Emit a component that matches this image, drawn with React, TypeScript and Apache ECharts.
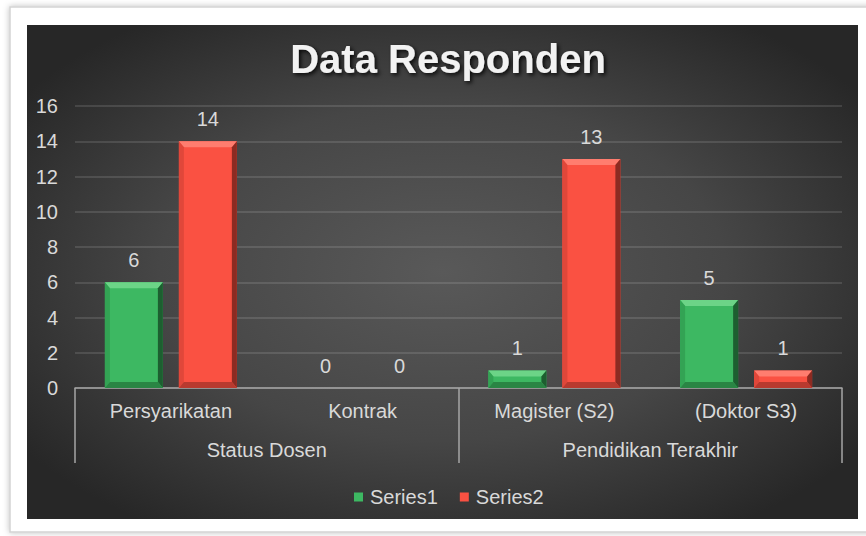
import React, { useEffect, useRef } from "react";
import * as echarts from "echarts";

const categories = ["Persyarikatan", "Kontrak", "Magister (S2)", "(Doktor S3)"];
const groups = ["Status Dosen", "Pendidikan Terakhir"];
const seriesNames = ["Series1", "Series2"];
const series1 = [6, 0, 1, 5];
const series2 = [14, 0, 13, 1];
const yMin = 0;
const yMax = 16;
const yStep = 2;
const titleText = "Data Responden";

const FONT = "'Liberation Sans', Arial, sans-serif";
const TXT = "#d9d9d9";
const BAR_W = 58;
const BAR_GAP_PX = 16;

const GREEN = { main: "#3db862", top: "#6cd487", left: "#33a354", right: "#1d5f30", bottom: "#2a8544" };
const RED = { main: "#fa5142", top: "#ff7d6f", left: "#e0473a", right: "#8c2b22", bottom: "#b83a2f" };

function bevelSeries(name: string, data: number[], sign: number, pal: typeof GREEN) {
  return {
    name,
    type: "custom",
    z: 5,
    silent: true,
    data: data.map((v, i) => [i, v]),
    encode: { x: 0, y: 1 },
    renderItem: (params: any, api: any) => {
      const v = api.value(1);
      if (!v) return null;
      const top = api.coord([api.value(0), v]);
      const base = api.coord([api.value(0), 0]);
      const cx = top[0] + sign * (BAR_W / 2 + BAR_GAP_PX / 2);
      const x0 = cx - BAR_W / 2;
      const x1 = cx + BAR_W / 2;
      const y0 = top[1];
      const y1 = base[1];
      const b = Math.min(6, (y1 - y0) / 2);
      const r = Math.min(5, BAR_W / 2);
      return {
        type: "group",
        children: [
          { type: "polygon", shape: { points: [[x0, y0], [x1, y0], [x1 - r, y0 + b], [x0 + r, y0 + b]] }, style: { fill: pal.top } },
          { type: "polygon", shape: { points: [[x1, y0], [x1, y1], [x1 - r, y1 - b], [x1 - r, y0 + b]] }, style: { fill: pal.right } },
          { type: "polygon", shape: { points: [[x0, y0], [x0 + r, y0 + b], [x0 + r, y1 - b], [x0, y1]] }, style: { fill: pal.left } },
          { type: "polygon", shape: { points: [[x0, y1], [x0 + r, y1 - b], [x1 - r, y1 - b], [x1, y1]] }, style: { fill: pal.bottom } },
        ],
      };
    },
  };
}

export default function App() {
  const ref = useRef<HTMLDivElement>(null);
  useEffect(() => {
    if (!ref.current) return;
    const chart = echarts.init(ref.current, undefined, { renderer: "svg" });
    const labelStyle = { show: true, position: "top", distance: 12, color: TXT, fontSize: 20, fontFamily: FONT };
    chart.setOption({
      animation: false,
      backgroundColor: "#ffffff",
      graphic: [
        {
          type: "rect",
          z: -10,
          shape: { x: 10, y: 7, width: 870, height: 525 },
          style: { fill: "#ffffff", stroke: "#d4d4d4", lineWidth: 1.5, shadowBlur: 6, shadowColor: "rgba(0,0,0,0.25)" },
        },
        {
          type: "rect",
          z: -9,
          shape: { x: 27, y: 25, width: 831, height: 494 },
          style: {
            fill: new echarts.graphic.RadialGradient(0.5, 0.5, 0.62, [
              { offset: 0, color: "#595959" },
              { offset: 0.55, color: "#464646" },
              { offset: 1, color: "#272727" },
            ]),
          },
        },
      ],
      title: {
        text: titleText,
        left: 443,
        textAlign: "center",
        top: 34,
        textStyle: {
          fontFamily: FONT,
          fontWeight: "bold",
          fontSize: 40,
          color: "#f2f2f2",
          textShadowColor: "rgba(0,0,0,0.85)",
          textShadowBlur: 4,
          textShadowOffsetX: 2,
          textShadowOffsetY: 2,
        },
      },
      legend: {
        data: seriesNames,
        left: 349,
        top: 482,
        itemWidth: 9,
        itemHeight: 9,
        itemGap: 22,
        icon: "rect",
        textStyle: { color: TXT, fontSize: 20, fontFamily: FONT, padding: [0, 0, 0, 2] },
      },
      grid: { left: 75, right: 24, top: 106, bottom: 148 },
      xAxis: [
        {
          type: "category",
          data: categories,
          axisLine: { show: true, lineStyle: { color: "#a6a6a6", width: 1.5 } },
          axisTick: { show: false },
          axisLabel: { color: TXT, fontSize: 20, fontFamily: FONT, margin: 13 },
        },
        {
          type: "category",
          data: groups,
          position: "bottom",
          axisLine: { show: false },
          axisTick: { show: true, length: 75, lineStyle: { color: "#a6a6a6", width: 1.5 } },
          axisLabel: { color: TXT, fontSize: 20, fontFamily: FONT, margin: 52 },
        },
      ],
      yAxis: {
        type: "value",
        min: yMin,
        max: yMax,
        interval: yStep,
        axisLine: { show: false },
        axisTick: { show: false },
        axisLabel: { color: TXT, fontSize: 20, fontFamily: FONT, margin: 17 },
        splitLine: { lineStyle: { color: "rgba(255,255,255,0.16)", width: 1.5 } },
      },
      series: [
        {
          name: seriesNames[0],
          type: "bar",
          data: series1,
          barWidth: BAR_W,
          barGap: (BAR_GAP_PX / BAR_W) * 100 + "%",
          itemStyle: { color: GREEN.main },
          label: labelStyle,
        },
        {
          name: seriesNames[1],
          type: "bar",
          data: series2,
          barWidth: BAR_W,
          barGap: (BAR_GAP_PX / BAR_W) * 100 + "%",
          itemStyle: { color: RED.main },
          label: labelStyle,
        },
        bevelSeries("bevel1", series1, -1, GREEN),
        bevelSeries("bevel2", series2, 1, RED),
      ],
    });
    return () => chart.dispose();
  }, []);
  return (
    <div
      ref={ref}
      style={{ position: "fixed", left: 0, top: 0, width: 866, height: 536 }}
    />
  );
}
